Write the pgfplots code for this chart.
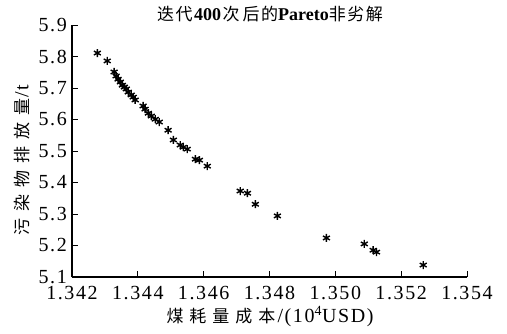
\documentclass[border=0pt]{standalone}
\usepackage{pgfplots}
\pgfplotsset{compat=1.18}
\usepackage{fontspec}
\setmainfont{Liberation Serif}
\newfontfamily\tickfont[LetterSpace=8]{Liberation Serif}
\newfontfamily\cjk{Noto Sans CJK SC}
\newcommand{\cs}{\hspace{6pt}}
\begin{document}
\begin{tikzpicture}
\useasboundingbox (0pt,0pt) rectangle (507pt,333pt);
\begin{axis}[
  at={(72pt,56pt)}, anchor=south west,
  scale only axis, width=395pt, height=252pt,
  xmin=1.342, xmax=1.354, ymin=5.1, ymax=5.9,
  axis x line*=bottom, axis y line*=left,
  axis line style={-, line width=1.3pt},
  xtick={1.342,1.344,1.346,1.348,1.350,1.352,1.354},
  xticklabels={1.342,1.344,1.346,1.348,1.350,1.352,1.354},
  ytick={5.1,5.2,5.3,5.4,5.5,5.6,5.7,5.8,5.9},
  yticklabels={5.1,5.2,5.3,5.4,5.5,5.6,5.7,5.8,5.9},
  tick align=inside,
  major tick length=6pt,
  tick style={line width=1pt, black},
  tick label style={font=\fontsize{20}{21}\tickfont},
  xticklabel style={inner ysep=0pt, yshift=-9pt},
  yticklabel style={inner xsep=0pt, inner ysep=0pt, xshift=-5pt},
  clip=false,
]
\addplot[only marks, mark=asterisk, mark size=4pt, mark options={line width=1.4pt, black}] coordinates {
(1.34277,5.811) (1.34307,5.786) (1.34328,5.751) (1.34334,5.738) (1.34340,5.728)
(1.34347,5.719) (1.34353,5.709) (1.34359,5.703) (1.34365,5.697) (1.34371,5.687)
(1.34380,5.678) (1.34386,5.671) (1.34392,5.662) (1.34416,5.643) (1.34422,5.633)
(1.34432,5.620) (1.34441,5.611) (1.34453,5.601) (1.34465,5.592) (1.34492,5.566)
(1.34508,5.535) (1.34529,5.519) (1.34538,5.512) (1.34550,5.506) (1.34575,5.474)
(1.34587,5.471) (1.34611,5.452) (1.34711,5.373) (1.34733,5.366) (1.34757,5.331)
(1.34824,5.294) (1.34973,5.224) (1.35088,5.205) (1.35115,5.185) (1.35125,5.179)
(1.35267,5.138)
};
\end{axis}
\node[font=\fontsize{17}{18}\selectfont] at (270pt,319pt)
  {\cjk 迭\hspace{1.5pt}代\hspace{1.5pt}{\fontsize{18}{18}\bfseries\rmfamily 400}\hspace{1.5pt}次\hspace{3pt}后\hspace{1.5pt}的{\fontsize{18}{18}\bfseries\rmfamily Pareto}非\hspace{1.5pt}劣\hspace{1.5pt}解};
\node[font=\fontsize{17}{18}\selectfont] at (270pt,16.5pt)
  {\cjk 煤\cs 耗\cs 量\cs 成\cs 本\hspace{2pt}{\fontsize{20}{20}\tickfont /(10\textsuperscript{4}USD)}};
\node[font=\fontsize{17}{18}\selectfont, rotate=90] at (22pt,173pt)
  {\cjk 污\hspace{7pt}染\hspace{7pt}物\hspace{7pt}排\hspace{7pt}放\hspace{7pt}量\hspace{1pt}{\fontsize{20}{20}\tickfont /t}};
\end{tikzpicture}
\end{document}
